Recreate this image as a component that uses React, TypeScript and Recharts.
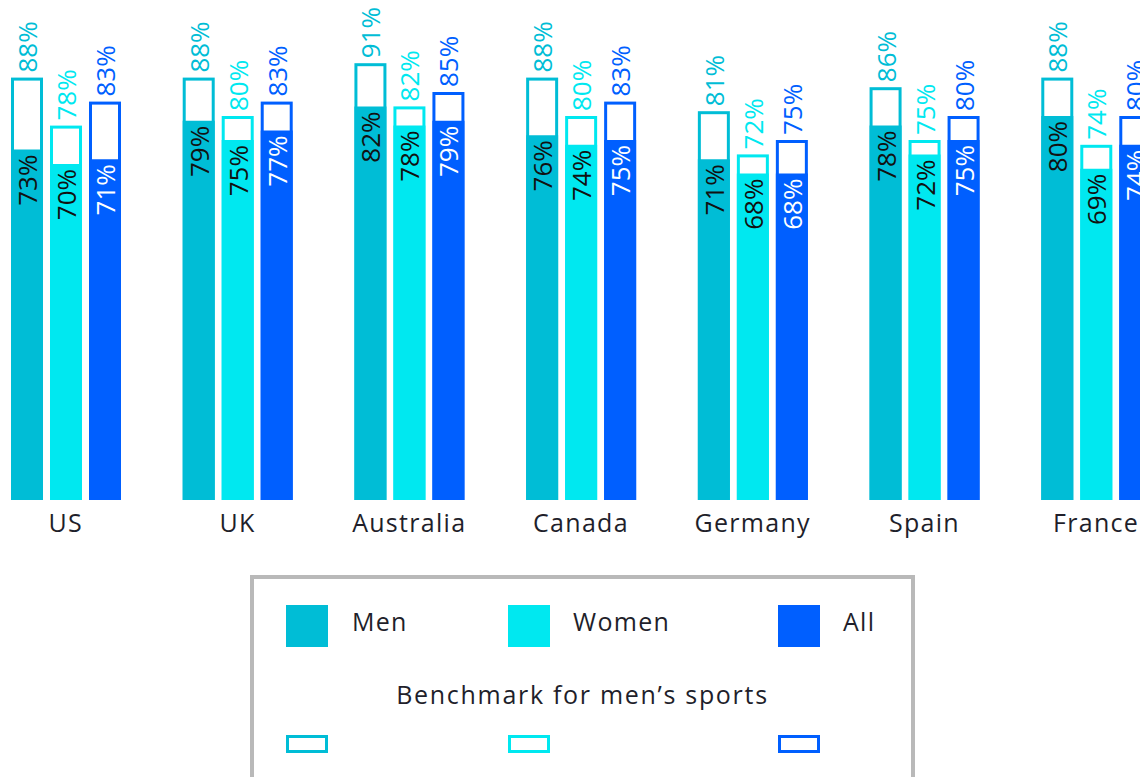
import { BarChart, Bar, XAxis, YAxis, LabelList } from "recharts";

const countries = ["US", "UK", "Australia", "Canada", "Germany", "Spain", "France"];
const men = [73, 79, 82, 76, 71, 78, 80];
const women = [70, 75, 78, 74, 68, 72, 69];
const all = [71, 77, 79, 75, 68, 75, 74];
const menBench = [88, 88, 91, 88, 81, 86, 88];
const womenBench = [78, 80, 82, 80, 72, 75, 74];
const allBench = [83, 83, 85, 83, 75, 80, 80];

const MEN = "#00bdd6";
const WOMEN = "#00e8f0";
const ALL = "#005fff";
const FONT = "'Open Sans', sans-serif";
const TEXT = "#1f1f2b";

const data = countries.map((c, i) => ({
  country: c,
  men: men[i],
  women: women[i],
  all: all[i],
  menB: menBench[i],
  womenB: womenBench[i],
  allB: allBench[i],
}));

// outline box, stroke kept inside the bar's footprint
const outline = (color: string) => (props: any) => {
  const { x, y, width, height } = props;
  return (
    <rect
      x={x + 1.5}
      y={y + 1.5}
      width={width - 3}
      height={Math.max(height - 3, 0)}
      fill="#fff"
      stroke={color}
      strokeWidth={3}
    />
  );
};

const topLabel = (color: string) => (props: any) => {
  const { x, y, width, value } = props;
  const cx = x + width / 2;
  const ty = y - 5;
  return (
    <text
      x={cx}
      y={ty}
      transform={`rotate(-90, ${cx}, ${ty})`}
      textAnchor="start"
      dominantBaseline="central"
      fill={color}
      fontSize={26}
      fontFamily={FONT}
    >
      {value}%
    </text>
  );
};

const insideLabel = (color: string) => (props: any) => {
  const { x, y, width, value } = props;
  const cx = x + width / 2;
  const ty = y + 5;
  return (
    <text
      x={cx}
      y={ty}
      transform={`rotate(-90, ${cx}, ${ty})`}
      textAnchor="end"
      dominantBaseline="central"
      fill={color}
      fontSize={26}
      fontFamily={FONT}
    >
      {value}%
    </text>
  );
};

const CountryTick = (props: any) => {
  const { x, y, payload } = props;
  return (
    <text
      x={x}
      y={y}
      dy={22}
      textAnchor="middle"
      dominantBaseline="central"
      fill={TEXT}
      fontSize={25}
      fontFamily={FONT}
      letterSpacing={1.3}
    >
      {payload.value}
    </text>
  );
};

const legendItems = [
  { name: "Men", color: MEN, left: 286, textLeft: 352 },
  { name: "Women", color: WOMEN, left: 508, textLeft: 573 },
  { name: "All", color: ALL, left: 778, textLeft: 843 },
];

export default function App() {
  return (
    <div
      style={{
        position: "fixed",
        left: 0,
        top: 0,
        width: 1140,
        height: 777,
        overflow: "hidden",
        background: "#fff",
        fontFamily: FONT,
      }}
    >
      <div style={{ position: "absolute", left: -20, top: 0 }}>
        <BarChart
          width={1202}
          height={550}
          data={data}
          margin={{ top: 20, right: 0, bottom: 0, left: 0 }}
          barSize={32}
          barGap={7}
        >
          <XAxis
            dataKey="country"
            xAxisId="val"
            height={50}
            axisLine={false}
            tickLine={false}
            tickSize={0}
            tickMargin={0}
            tick={<CountryTick />}
          />
          <XAxis dataKey="country" xAxisId="bench" hide height={0} />
          <YAxis hide domain={[0, 100]} />
          <Bar dataKey="menB" xAxisId="bench" shape={outline(MEN)} isAnimationActive={false}>
            <LabelList dataKey="menB" content={topLabel(MEN)} />
          </Bar>
          <Bar dataKey="womenB" xAxisId="bench" shape={outline(WOMEN)} isAnimationActive={false}>
            <LabelList dataKey="womenB" content={topLabel(WOMEN)} />
          </Bar>
          <Bar dataKey="allB" xAxisId="bench" shape={outline(ALL)} isAnimationActive={false}>
            <LabelList dataKey="allB" content={topLabel(ALL)} />
          </Bar>
          <Bar dataKey="men" xAxisId="val" fill={MEN} isAnimationActive={false}>
            <LabelList dataKey="men" content={insideLabel("#111")} />
          </Bar>
          <Bar dataKey="women" xAxisId="val" fill={WOMEN} isAnimationActive={false}>
            <LabelList dataKey="women" content={insideLabel("#111")} />
          </Bar>
          <Bar dataKey="all" xAxisId="val" fill={ALL} isAnimationActive={false}>
            <LabelList dataKey="all" content={insideLabel("#fff")} />
          </Bar>
        </BarChart>
      </div>

      {/* legend box */}
      <div
        style={{
          position: "absolute",
          left: 250,
          top: 575,
          width: 657,
          height: 260,
          border: "4px solid #b9b9b9",
          boxSizing: "content-box",
        }}
      />
      {legendItems.map((it) => (
        <div key={it.name}>
          <div
            style={{
              position: "absolute",
              left: it.left,
              top: 605,
              width: 42,
              height: 42,
              background: it.color,
            }}
          />
          <div
            style={{
              position: "absolute",
              left: it.textLeft,
              top: 603,
              height: 36,
              lineHeight: "36px",
              fontSize: 25,
              letterSpacing: 1.3,
              color: TEXT,
            }}
          >
            {it.name}
          </div>
          <div
            style={{
              position: "absolute",
              left: it.left,
              top: 735,
              width: 36,
              height: 12,
              border: `3px solid ${it.color}`,
            }}
          />
        </div>
      ))}
      <div
        style={{
          position: "absolute",
          left: 250,
          width: 665,
          top: 676,
          lineHeight: "36px",
          textAlign: "center",
          fontSize: 25,
          letterSpacing: 1.7,
          color: TEXT,
        }}
      >
        Benchmark for men’s sports
      </div>
    </div>
  );
}
